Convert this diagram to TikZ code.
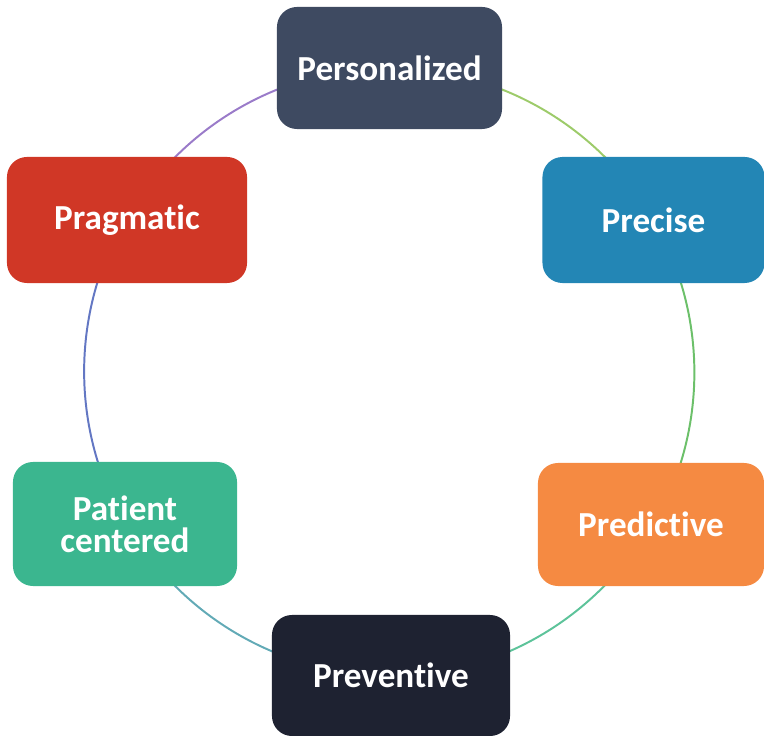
\documentclass[tikz,border=0pt]{standalone}
\usepackage{fontspec}
\usepackage{xcolor}
\usepackage{tikz}
\usetikzlibrary{backgrounds}
\newfontfamily\boxfont[Ligatures=NoCommon]{Carlito}

\definecolor{cpers}{HTML}{3E4A61}
\definecolor{cprec}{HTML}{2386B5}
\definecolor{cpred}{HTML}{F58A42}
\definecolor{cprev}{HTML}{1E2231}
\definecolor{cpat}{HTML}{3BB68F}
\definecolor{cprag}{HTML}{D03726}
% ring colours
\definecolor{lpersprec}{HTML}{9DCB6A}
\definecolor{lprecpred}{HTML}{6CC06A}
\definecolor{lpredprev}{HTML}{5DC39A}
\definecolor{lprevpat}{HTML}{62AAB6}
\definecolor{lpatprag}{HTML}{6377C3}
\definecolor{lpragpers}{HTML}{9A7BC9}

\tikzset{
  box/.style={rectangle, rounded corners=0.5cm, inner sep=0pt, align=center,
    text=white, font=\boxfont\bfseries\fontsize{25}{23}\selectfont},
  ring/.style={line width=1.4pt}
}

\begin{document}
\begin{tikzpicture}[x=0.025cm,y=0.025cm]
\useasboundingbox (0,0) rectangle (764,736);
\clip (0,0) rectangle (764,736);
%\coordinate (hub) at (391,364);
\node[box, fill=cpers, minimum width=5.625cm, minimum height=3.05cm]  (pers) at (389.5,668) {Personalized};
\node[box, fill=cprec, minimum width=5.55cm,  minimum height=3.15cm]  (prec) at (653.5,516) {Precise};
\node[box, fill=cpred, minimum width=5.65cm,  minimum height=3.075cm] (pred) at (651,211.5) {Predictive};
\node[box, fill=cprev, minimum width=5.95cm,  minimum height=3.025cm] (prev) at (391,60.5)  {Preventive};
\node[box, fill=cpat,  minimum width=5.6cm,   minimum height=3.1cm]   (pat)  at (125,212)   {Patient\\centered};
\node[box, fill=cprag, minimum width=6cm,     minimum height=3.15cm]  (prag) at (127,516)   {Pragmatic};
\begin{pgfonlayer}{background}
  % the ring, one arc per pair of boxes, hidden under the boxes at both ends
  \draw[ring, lpersprec] (pers.center) arc[start angle=90,  end angle=30,   radius=7.625cm];
  \draw[ring, lprecpred] (prec.center) arc[start angle=30,  end angle=-30,  radius=7.625cm];
  \draw[ring, lpredprev] (pred.center) arc[start angle=-30, end angle=-90,  radius=7.625cm];
  \draw[ring, lprevpat]  (prev.center) arc[start angle=-90, end angle=-150, radius=7.625cm];
  \draw[ring, lpatprag]  (pat.center)  arc[start angle=210, end angle=150,  radius=7.625cm];
  \draw[ring, lpragpers] (prag.center) arc[start angle=150, end angle=90,   radius=7.625cm];
\end{pgfonlayer}
\end{tikzpicture}
\end{document}
